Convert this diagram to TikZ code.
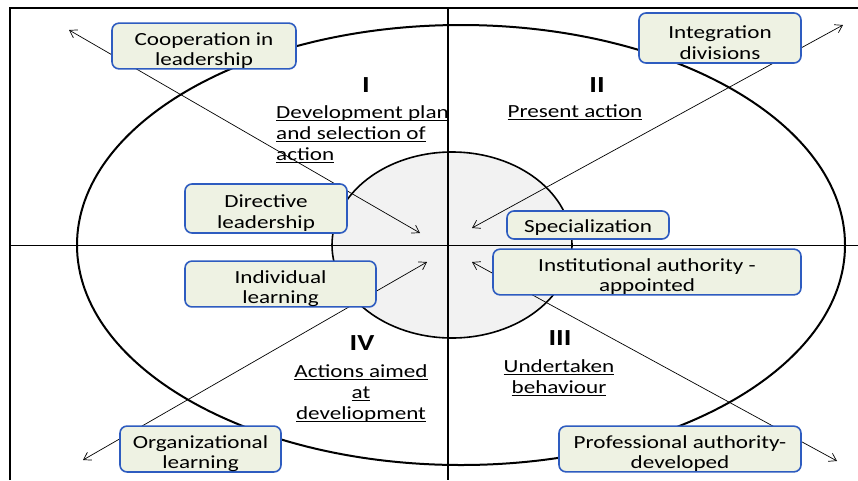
\documentclass[tikz,border=0pt]{standalone}
\usepackage{fontspec}
\setmainfont{Carlito}[FakeStretch=1.25]
\usetikzlibrary{arrows.meta}
\definecolor{boxfill}{HTML}{EEF2E3}
\definecolor{boxline}{HTML}{2E5CC0}
\definecolor{innerfill}{HTML}{F2F2F2}
\newcommand\ulx[1]{\setbox0\hbox{#1}\rlap{\rule[-2.4pt]{\wd0}{1.2pt}}\box0}
\newcommand\tsp{\rule{0pt}{22pt}}
\tikzset{
  lbl/.style={draw=boxline, fill=boxfill, line width=1.6pt, rounded corners=7pt,
    align=center, inner sep=0pt, font=\fontsize{18.5}{20.7}\selectfont},
  quad/.style={inner sep=0pt, font=\fontsize{18.5}{21}\selectfont},
  roman/.style={inner sep=0pt, font=\fontsize{23}{23}\selectfont\bfseries},
  conn/.style={line width=0.7pt, {Straight Barb[length=7pt,width=9pt]}-{Straight Barb[length=7pt,width=9pt]}}
}
\begin{document}
\begin{tikzpicture}[x=1pt,y=-1pt]
\useasboundingbox (0,0) rectangle (858,480);
\fill[white] (0,0) rectangle (858,480);
% frame
\draw[line width=2pt] (10,480) -- (10,8) -- (858,8);
% outer ellipse
\draw[line width=2pt] (461,245) ellipse [x radius=384, y radius=220];
% inner circle
\draw[line width=1.6pt, fill=innerfill] (452,245) ellipse [x radius=120, y radius=93];
% axes
\draw[line width=1.8pt] (448,8) -- (448,480);
\draw[line width=1pt] (10,245.5) -- (858,245.5);
% arrow ends
\coordinate (a1) at (69,30);  \coordinate (b1) at (420,233);
\coordinate (a2) at (843,25); \coordinate (b2) at (472,228);
\coordinate (a3) at (83,460); \coordinate (b3) at (427,262);
\coordinate (a4) at (837,461);\coordinate (b4) at (472,262);
\draw[conn] (a1) -- (b1);
\draw[conn] (a2) -- (b2);
\draw[conn] (a3) -- (b3);
\draw[conn] (a4) -- (b4);
% boxes
\node[lbl, minimum width=184pt, minimum height=44pt] (coop) at (204,46) {\tsp Cooperation in\\leadership};
\node[lbl, minimum width=162pt, minimum height=49pt] (dir) at (266,208.5) {\tsp Directive\\leadership};
\node[lbl, minimum width=162pt, minimum height=50pt] (integ) at (720,38) {\tsp Integration\\divisions};
\node[lbl, minimum width=162pt, minimum height=28pt] (spec) at (588,225) {\rule{0pt}{17pt}Specialization};
\node[lbl, minimum width=191pt, minimum height=44pt] (indiv) at (280.5,284) {\tsp Individual\\learning};
\node[lbl, minimum width=161pt, minimum height=44pt] (org) at (200.5,449) {\tsp Organizational\\learning};
\node[lbl, minimum width=308pt, minimum height=44pt] (inst) at (647,272) {\tsp Institutional authority -\\appointed};
\node[lbl, minimum width=242pt, minimum height=44pt] (prof) at (680,449) {\tsp Professional authority-\\developed};
% quadrant labels
\node[roman] (q1) at (366,85) {I};
\node[quad, align=left, anchor=north west] (t1) at (276,105.5) {\ulx{Development plan}\\\ulx{and selection of}\\\ulx{action}};
\node[roman] (q2) at (597,85) {II};
\node[quad, anchor=north] (t2) at (575,104.5) {\ulx{Present action}};
\node[roman] (q3) at (560,338) {III};
\node[quad, align=center, anchor=north] (t3) at (559,359.5) {\ulx{Undertaken}\\\ulx{behaviour}};
\node[roman] (q4) at (362,343) {IV};
\node[quad, align=center, anchor=north] (t4) at (361,364.5) {\ulx{Actions aimed}\\\ulx{at}\\\ulx{develiopment}};
\end{tikzpicture}
\end{document}
